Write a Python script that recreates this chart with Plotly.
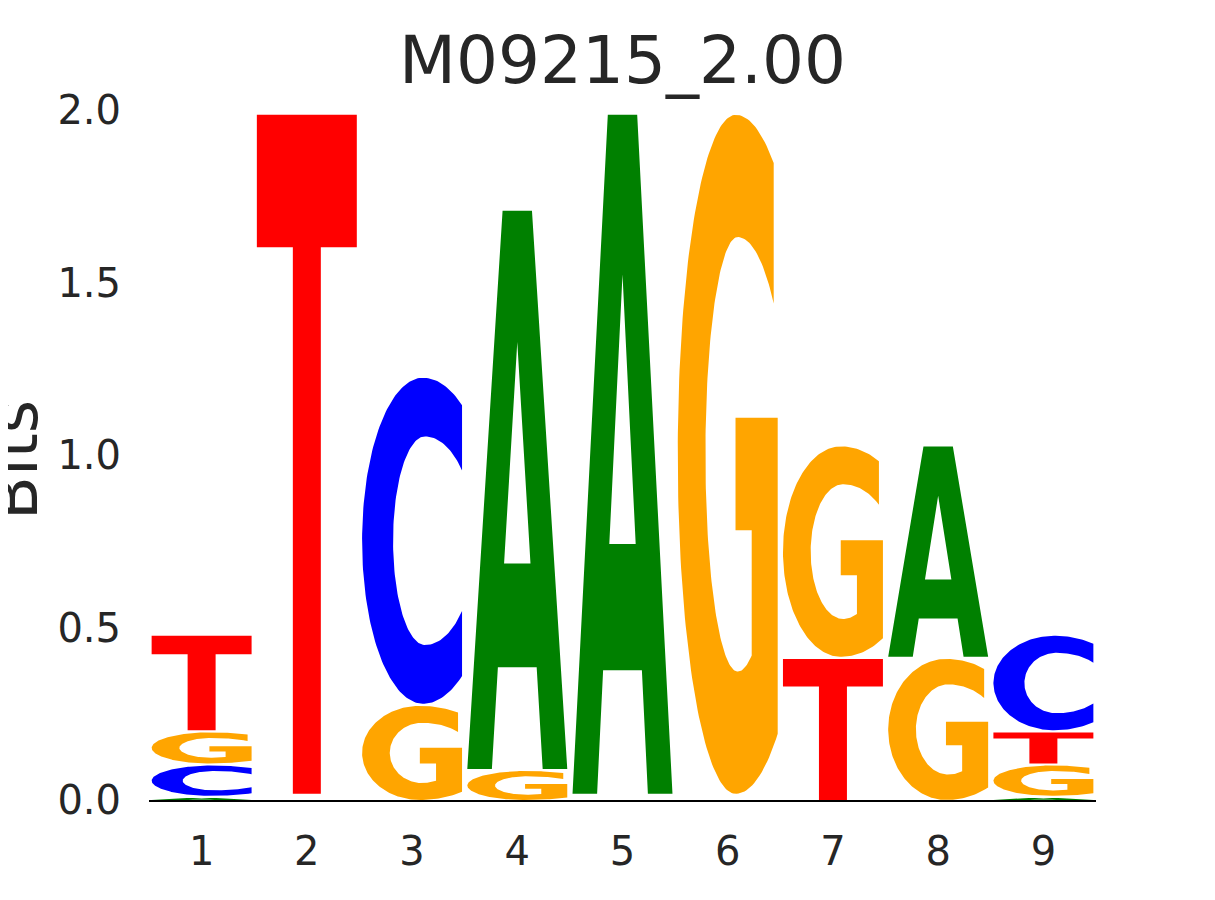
import numpy as np
import plotly.graph_objects as go

# ---------------- data (bits per base, per position) ----------------
positions = [1, 2, 3, 4, 5, 6, 7, 8, 9]
tick_labels = ["1", "2", "3", "4", "5", "6", "7", "8", "9"]
bits_A = [0.012, 0.006, 0.0, 1.624, 1.974, 0.006, 0.0, 0.616, 0.012]
bits_C = [0.094, 0.006, 0.951, 0.0, 0.006, 0.006, 0.0, 0.0, 0.280]
bits_G = [0.096, 0.006, 0.279, 0.090, 0.006, 1.974, 0.616, 0.415, 0.094]
bits_T = [0.280, 1.974, 0.0, 0.0, 0.006, 0.006, 0.415, 0.0, 0.096]
y_ticks = [0.0, 0.5, 1.0, 1.5, 2.0]
y_tick_labels = ["0.0", "0.5", "1.0", "1.5", "2.0"]
title_text = "M09215_2.00"
y_title = "Bits"

# ---------------- styles ----------------
COLORS = {"A": "#008000", "C": "#0000ff", "G": "#ffa500", "T": "#ff0000"}
GLYPH_WIDTH = 0.95
GAP = 0.006
TEXT = "#262626"
FONT = "DejaVu Sans"
PAGE_OFFSET = 8  # default body margin of the html page


def arc(cx, cy, ry, rxl, rxur, rxlr, t0, t1, n=80):
    ts = np.linspace(t0, t1, n)
    xs, ys = [], []
    for t in ts:
        c, s = np.cos(t), np.sin(t)
        if c < 0:
            rx = rxl
        else:
            rx = rxur if s >= 0 else rxlr
        xs.append(cx + rx * c)
        ys.append(cy + ry * s)
    return xs, ys


def glyph_outline(letter):
    """Unit-box outline(s) of a letter; None separates sub-paths."""
    if letter == "T":
        u = [0, 1, 1, 0.64, 0.64, 0.36, 0.36, 0, 0]
        v = [1, 1, 0.805, 0.805, 0, 0, 0.805, 0.805, 1]
        return u, v
    if letter == "A":
        u = [0, 0.246, 0.306, 0.694, 0.754, 1, 0.647, 0.353, 0, None,
             0.5, 0.632, 0.368, 0.5]
        v = [0, 0, 0.182, 0.182, 0, 0, 1, 1, 0, None,
             0.765, 0.368, 0.368, 0.765]
        return u, v
    if letter == "C":
        cx, rxr = 0.61, 0.7
        t_o = np.arccos((1 - cx) / rxr)
        ox, oy = arc(cx, 0.5, 0.5, 0.61, rxr, rxr, t_o, 2 * np.pi - t_o, 160)
        icx, irx = 0.63, 0.5
        t_i = np.arccos((1 - icx) / irx)
        ix, iy = arc(icx, 0.5, 0.32, 0.32, irx, irx, 2 * np.pi - t_i, t_i, 140)
        u = ox + ix + [ox[0]]
        v = oy + iy + [oy[0]]
        return u, v
    if letter == "G":
        cx, rxr = 0.58, 0.74
        t_top = np.arccos((0.96 - cx) / rxr)
        t_bot = 2 * np.pi - np.arccos((1.0 - cx) / rxr)
        ox, oy = arc(cx, 0.5, 0.5, 0.58, rxr, rxr, t_top, t_bot, 160)
        bx = [1.0, 0.578, 0.578, 0.74]
        by = [0.554, 0.554, 0.388, 0.388]
        icx = 0.6
        t_i0 = 2 * np.pi - np.arccos((0.74 - icx) / 0.37)
        t_i1 = np.arccos((0.96 - icx) / 0.5)
        ix, iy = arc(icx, 0.5, 0.32, 0.323, 0.5, 0.37, t_i0, t_i1, 160)
        u = ox + bx + ix + [ox[0]]
        v = oy + by + iy + [oy[0]]
        return u, v


fig = go.Figure()

columns = {"A": bits_A, "C": bits_C, "G": bits_G, "T": bits_T}
for i, pos in enumerate(positions):
    vals = [(columns[L][i], L) for L in ["A", "C", "G", "T"]]
    vals.sort(key=lambda p: p[0])
    floor = 0.0
    for h, L in vals:
        drawn = h - GAP
        if drawn > 1e-9:
            u, v = glyph_outline(L)
            x0 = pos - GLYPH_WIDTH / 2
            xs = [None if a is None else x0 + a * GLYPH_WIDTH for a in u]
            ys = [None if b is None else floor + b * drawn for b in v]
            fig.add_trace(go.Scatter(
                x=xs, y=ys, mode="lines", fill="toself",
                fillcolor=COLORS[L], line=dict(width=0, color=COLORS[L]),
                hoverinfo="skip", showlegend=False,
            ))
        floor += h

W, H = 1215 - PAGE_OFFSET, 900 - PAGE_OFFSET
fig.update_layout(
    width=W, height=H,
    margin=dict(l=149 - PAGE_OFFSET, r=119, t=110 - PAGE_OFFSET, b=100),
    paper_bgcolor="white", plot_bgcolor="white",
    font=dict(family=FONT, color=TEXT),
    title=dict(text=title_text, x=0.5, xref="paper", xanchor="center",
               y=1 - (60 - PAGE_OFFSET) / H, yref="container", yanchor="middle",
               font=dict(size=66, family=FONT, color=TEXT)),
    showlegend=False,
)
fig.update_xaxes(
    range=[0.5, 9.5], tickvals=positions, ticktext=tick_labels,
    showgrid=False, zeroline=False, showline=True, linecolor="black",
    linewidth=1.5, ticks="", ticklabelstandoff=15,
    tickfont=dict(size=40, family=FONT, color=TEXT),
)
fig.update_yaxes(
    range=[0, 2.0], tickvals=y_ticks, ticktext=y_tick_labels,
    showgrid=False, zeroline=False, showline=False, ticks="",
    ticklabelstandoff=27,
    tickfont=dict(size=40, family=FONT, color=TEXT),
)
fig.add_annotation(
    text=y_title, textangle=-90, showarrow=False,
    xref="paper", yref="paper",
    x=(15 - 149) / 947, y=(800 - 460) / 690,
    xanchor="center", yanchor="middle",
    font=dict(size=64, family=FONT, color=TEXT),
)

fig.write_html("out.html")
